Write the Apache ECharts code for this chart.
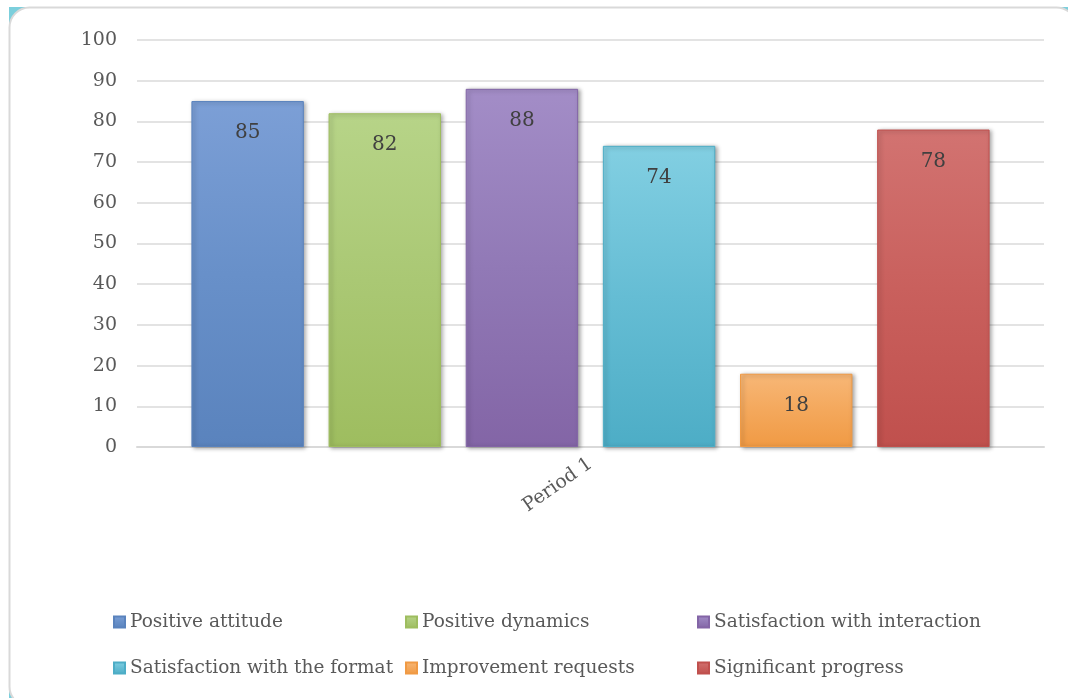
<!DOCTYPE html>
<html>
<head>
<meta charset="utf-8">
<style>
  html, body { margin: 0; padding: 0; background: #ffffff; }
  #chart { width: 1068px; height: 698px; }
</style>
<script src="https://cdn.jsdelivr.net/npm/echarts@6/dist/echarts.min.js"></script>
</head>
<body>
<div id="chart"></div>
<script>
// Survey results for a single period
const categories = ['Period 1'];
const seriesNames = [
  'Positive attitude',
  'Positive dynamics',
  'Satisfaction with interaction',
  'Satisfaction with the format',
  'Improvement requests',
  'Significant progress'
];
const positiveAttitude = [85];
const positiveDynamics = [82];
const satisfactionInteraction = [88];
const satisfactionFormat = [74];
const improvementRequests = [18];
const significantProgress = [78];
const yTicks = [0, 10, 20, 30, 40, 50, 60, 70, 80, 90, 100];

const seriesValues = [
  positiveAttitude,
  positiveDynamics,
  satisfactionInteraction,
  satisfactionFormat,
  improvementRequests,
  significantProgress
];

// Office-style palette: [top highlight, base, bottom shade]
const palette = [
  ['#7c9fd6', '#6890c9', '#5a83bd'],
  ['#b7d488', '#aac874', '#9ebd5f'],
  ['#a38dc7', '#9179b6', '#8365a6'],
  ['#82cfe2', '#65bdd4', '#4dadc6'],
  ['#f7b777', '#f4a85c', '#f09a44'],
  ['#d27371', '#c9605d', '#c0504d']
];

const FONT = '"DejaVu Serif", "Liberation Serif", serif';

function barGradient(c) {
  return new echarts.graphic.LinearGradient(0, 0, 0, 1, [
    { offset: 0, color: c[0] },
    { offset: 0.5, color: c[1] },
    { offset: 1, color: c[2] }
  ]);
}

const series = seriesNames.map((name, i) => ({
  name: name,
  type: 'bar',
  data: seriesValues[i],
  barGap: '22%',
  barCategoryGap: '12%',
  itemStyle: {
    color: barGradient(palette[i]),
    borderColor: palette[i][2],
    borderWidth: 1,
    shadowColor: 'rgba(0,0,0,0.35)',
    shadowBlur: 4,
    shadowOffsetX: 2,
    shadowOffsetY: 1
  },
  label: {
    show: true,
    position: 'insideTop',
    distance: 22,
    color: '#404040',
    fontFamily: FONT,
    fontSize: 20
  }
}));

// Legend laid out as three columns, two rows
const legendCols = [113, 405, 697];
const legendRows = [612, 658];
const legends = seriesNames.map((name, i) => ({
  data: [name],
  left: legendCols[i % 3],
  top: legendRows[Math.floor(i / 3)],
  padding: 0,
  itemWidth: 11,
  itemHeight: 11,
  icon: 'rect',
  selectedMode: false,
  textStyle: {
    color: '#595959',
    fontFamily: FONT,
    fontSize: 18.5,
    lineHeight: 20
  }
}));

const chart = echarts.init(document.getElementById('chart'), null, { renderer: 'canvas' });

chart.setOption({
  backgroundColor: '#ffffff',
  animation: false,
  graphic: [
    {
      type: 'rect',
      z: -10,
      silent: true,
      shape: { x: 9, y: 7, width: 1068, height: 700 },
      style: { fill: '#7ccfdc' }
    },
    {
      type: 'rect',
      z: -9,
      silent: true,
      shape: { x: 9.5, y: 7.5, width: 1067, height: 699, r: 20 },
      style: { fill: '#ffffff', stroke: '#d9d9d9', lineWidth: 2 }
    }
  ],
  grid: {
    left: 137,
    right: 24,
    top: 40,
    bottom: 251,
    containLabel: false
  },
  legend: legends,
  xAxis: {
    type: 'category',
    data: categories,
    axisLine: { show: true, lineStyle: { color: '#d9d9d9', width: 2 } },
    axisTick: { show: false },
    axisLabel: {
      rotate: 35,
      margin: 15,
      color: '#595959',
      fontFamily: FONT,
      fontSize: 19
    }
  },
  yAxis: {
    type: 'value',
    min: yTicks[0],
    max: yTicks[yTicks.length - 1],
    interval: yTicks[1] - yTicks[0],
    axisLine: { show: false },
    axisTick: { show: false },
    axisLabel: {
      margin: 20,
      padding: [3, 0, 0, 0],
      color: '#595959',
      fontFamily: FONT,
      fontSize: 19
    },
    splitLine: { lineStyle: { color: '#e3e3e3', width: 2 } }
  },
  series: series
});
</script>
</body>
</html>
